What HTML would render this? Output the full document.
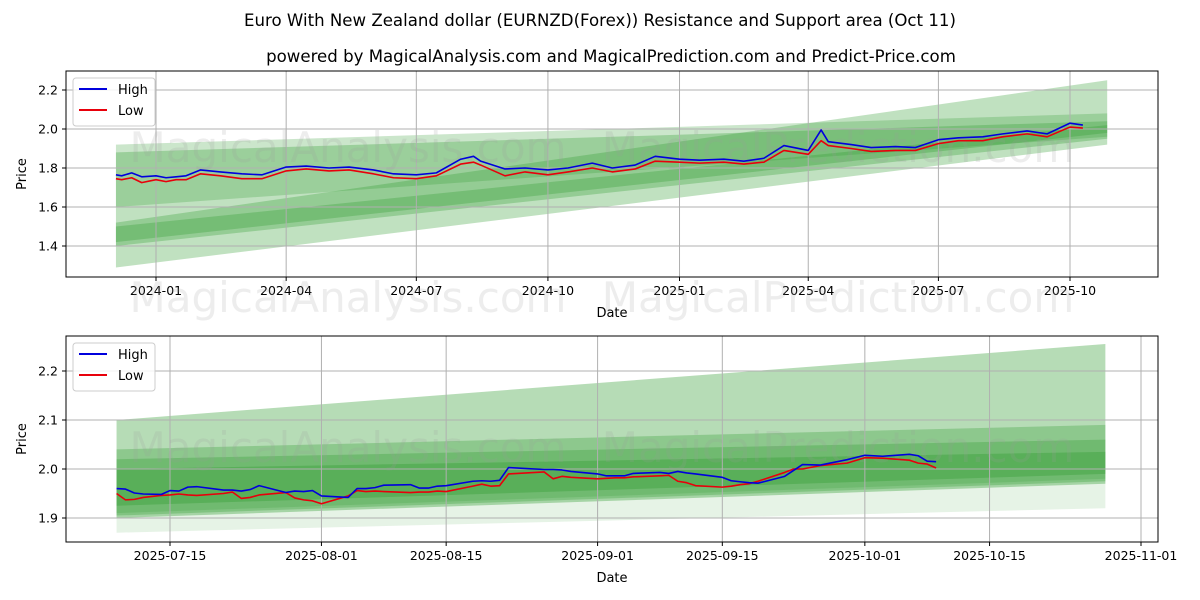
<!DOCTYPE html>
<html><head><meta charset="utf-8">
<style>
html,body{margin:0;padding:0;background:#fff;}
svg{display:block;font-family:"DejaVu Sans","Liberation Sans",sans-serif;}
</style></head>
<body>
<svg id="chart" width="1200" height="600" viewBox="0 0 1200 600" xmlns="http://www.w3.org/2000/svg">
<text x="600" y="26" text-anchor="middle" font-size="16.6">Euro With New Zealand dollar (EURNZD(Forex)) Resistance and Support area (Oct 11)</text>
<text x="611" y="62" text-anchor="middle" font-size="16.6">powered by MagicalAnalysis.com and MagicalPrediction.com and Predict-Price.com</text>
<g id="top"></g>
<g id="bot"></g>
</svg>
<script>
// ---- top chart data ----
const topDates = ["2023-12-04","2023-12-08","2023-12-15","2023-12-22","2024-01-01","2024-01-08","2024-01-15","2024-01-22","2024-02-01","2024-02-15","2024-03-01","2024-03-15","2024-04-01","2024-04-15","2024-05-01","2024-05-15","2024-06-01","2024-06-15","2024-07-01","2024-07-15","2024-08-01","2024-08-10","2024-08-15","2024-09-01","2024-09-15","2024-10-01","2024-10-15","2024-11-01","2024-11-15","2024-12-01","2024-12-15","2025-01-01","2025-01-15","2025-02-01","2025-02-15","2025-03-01","2025-03-15","2025-04-01","2025-04-10","2025-04-15","2025-05-01","2025-05-15","2025-06-01","2025-06-15","2025-07-01","2025-07-15","2025-08-01","2025-08-15","2025-09-01","2025-09-15","2025-10-01","2025-10-10"];
const topHigh = [1.765,1.76,1.775,1.755,1.76,1.75,1.755,1.76,1.79,1.78,1.77,1.765,1.805,1.81,1.80,1.805,1.79,1.77,1.765,1.775,1.845,1.86,1.835,1.795,1.80,1.79,1.80,1.825,1.80,1.815,1.86,1.845,1.84,1.845,1.835,1.85,1.915,1.89,1.995,1.935,1.92,1.905,1.91,1.905,1.945,1.955,1.96,1.975,1.99,1.975,2.03,2.02];
const topLow = [1.745,1.74,1.75,1.725,1.74,1.73,1.74,1.74,1.77,1.76,1.745,1.745,1.785,1.795,1.785,1.79,1.77,1.75,1.745,1.76,1.82,1.83,1.815,1.76,1.78,1.765,1.78,1.80,1.78,1.795,1.835,1.83,1.825,1.83,1.82,1.83,1.89,1.87,1.94,1.915,1.90,1.885,1.89,1.89,1.925,1.94,1.94,1.96,1.975,1.96,2.01,2.005];
const topBandStart = [[1.60,1.92],[1.29,1.52],[1.40,1.88],[1.42,1.50]];
const topBandEnd = [[1.96,2.08],[1.92,2.25],[1.95,2.04],[1.98,2.02]];
const topYTicks = [1.4,1.6,1.8,2.0,2.2];
const topXTicks = ["2024-01","2024-04","2024-07","2024-10","2025-01","2025-04","2025-07","2025-10"];
// ---- bottom chart data ----
const botDates = ["2025-07-09","2025-07-10","2025-07-11","2025-07-12","2025-07-14","2025-07-15","2025-07-16","2025-07-17","2025-07-18","2025-07-21","2025-07-22","2025-07-23","2025-07-24","2025-07-25","2025-07-28","2025-07-29","2025-07-30","2025-07-31","2025-08-01","2025-08-04","2025-08-05","2025-08-06","2025-08-07","2025-08-08","2025-08-11","2025-08-12","2025-08-13","2025-08-14","2025-08-15","2025-08-18","2025-08-19","2025-08-20","2025-08-21","2025-08-22","2025-08-25","2025-08-26","2025-08-27","2025-08-28","2025-08-29","2025-09-01","2025-09-02","2025-09-03","2025-09-04","2025-09-05","2025-09-08","2025-09-09","2025-09-10","2025-09-11","2025-09-12","2025-09-15","2025-09-16","2025-09-17","2025-09-18","2025-09-19","2025-09-22","2025-09-23","2025-09-24","2025-09-26","2025-09-29","2025-10-01","2025-10-03","2025-10-06","2025-10-07","2025-10-08","2025-10-09"];
const botHigh = [1.960,1.959,1.951,1.949,1.948,1.956,1.955,1.963,1.964,1.957,1.957,1.955,1.958,1.966,1.952,1.955,1.954,1.956,1.945,1.942,1.960,1.960,1.962,1.967,1.968,1.961,1.961,1.965,1.966,1.975,1.976,1.975,1.977,2.003,2.000,1.999,1.999,1.998,1.995,1.990,1.986,1.986,1.986,1.991,1.993,1.991,1.995,1.992,1.990,1.983,1.976,1.974,1.972,1.971,1.985,1.997,2.009,2.008,2.019,2.028,2.026,2.030,2.027,2.016,2.015];
const botLow = [1.950,1.937,1.938,1.942,1.946,1.947,1.949,1.947,1.946,1.950,1.953,1.940,1.942,1.947,1.952,1.941,1.937,1.935,1.929,1.945,1.956,1.954,1.955,1.954,1.952,1.953,1.953,1.955,1.954,1.965,1.969,1.965,1.966,1.990,1.993,1.994,1.980,1.985,1.983,1.980,1.981,1.982,1.982,1.984,1.986,1.987,1.975,1.972,1.966,1.963,1.965,1.968,1.970,1.975,1.993,2.000,2.000,2.007,2.012,2.023,2.022,2.018,2.012,2.010,2.002];
const botBandStart = [[1.90,2.10],[1.87,1.91],[1.905,2.04],[1.91,2.02],[1.925,2.00]];
const botBandEnd = [[1.97,2.255],[1.92,1.98],[1.975,2.09],[1.98,2.06],[1.99,2.035]];
const botYTicks = [1.9,2.0,2.1,2.2];
const botXTicks = ["2025-07-15","2025-08-01","2025-08-15","2025-09-01","2025-09-15","2025-10-01","2025-10-15","2025-11-01"];

const NS="http://www.w3.org/2000/svg";
function mk(parent,tag,attrs){const e=document.createElementNS(NS,tag);for(const k in attrs)e.setAttribute(k,attrs[k]);parent.appendChild(e);return e;}
const day=s=>Date.parse(s.length===7?s+"-01":s)/86400000;

function drawChart(g,cfg){
  const L=66,R=1158,T=cfg.top,B=cfg.top+206;
  const xs=d=>cfg.x0+(day(d)-day(cfg.d0))*cfg.pxPerDay;
  const ys=v=>cfg.y0+(v-cfg.v0)*cfg.pxPerUnit;
  cfg.bs.forEach((s,i)=>{
    const e=cfg.be[i];
    const xa=xs(cfg.bandFrom), xb=xs(cfg.bandTo);
    const p=mk(g,'polygon',{points:`${xa},${ys(s[0])} ${xa},${ys(s[1])} ${xb},${ys(e[1])} ${xb},${ys(e[0])}`,fill:'#2e9a2e','fill-opacity':cfg.alpha[i]});
    
    
  });
  cfg.yt.forEach(v=>{
    const l=mk(g,'line',{x1:L,x2:R,y1:ys(v),y2:ys(v),stroke:'#b0b0b0','stroke-width':1});
    
    
    mk(g,'line',{x1:L-4,x2:L,y1:ys(v),y2:ys(v),stroke:'#000'});
    const t=mk(g,'text',{x:L-8,y:ys(v)+4.5,'text-anchor':'end','font-size':12.5});
    t.textContent=v.toFixed(cfg.dec);
    
    
  });
  cfg.xt.forEach(d=>{
    const x=xs(d);
    const l=mk(g,'line',{x1:x,x2:x,y1:T,y2:B,stroke:'#b0b0b0','stroke-width':1});
    
    
    mk(g,'line',{x1:x,x2:x,y1:B,y2:B+4,stroke:'#000'});
    const t=mk(g,'text',{x:x,y:B+18,'text-anchor':'middle','font-size':12.5});
    t.textContent=d;
    
    
  });
  [[cfg.wm1y,'MagicalAnalysis.com',348],[cfg.wm1y,'MagicalPrediction.com',838],[cfg.wm2y,'MagicalAnalysis.com',348],[cfg.wm2y,'MagicalPrediction.com',838]].forEach(w=>{
    if(w[0]==null)return;
    const t=mk(g,'text',{x:w[2],y:w[0],'text-anchor':'middle','font-size':42,fill:'#999','fill-opacity':0.18});
    t.textContent=w[1];
    
    
  });
  const line=(vals,col,name)=>{
    const p=mk(g,'polyline',{points:cfg.dates.map((d,i)=>xs(d)+','+ys(vals[i])).join(' '),fill:'none',stroke:col,'stroke-width':1.6,'stroke-linejoin':'round'});
    
    
  };
  line(cfg.low,'#e8000b','low-line');
  line(cfg.high,'#0000dd','high-line');
  const f=mk(g,'rect',{x:L,y:T,width:R-L,height:B-T,fill:'none',stroke:'#000','stroke-width':1});
  
  
  const yl=mk(g,'text',{x:0,y:0,transform:`translate(26,${(T+B)/2}) rotate(-90)`,'text-anchor':'middle','font-size':13});
  yl.textContent='Price';
  
  
  const xl=mk(g,'text',{x:612,y:B+40,'text-anchor':'middle','font-size':13});
  xl.textContent='Date';
  
  
  const lg=mk(g,'g',{});
  
  
  mk(lg,'rect',{x:73,y:T+7,width:82,height:48,rx:3,fill:'#fff','fill-opacity':0.85,stroke:'#ccc'});
  mk(lg,'line',{x1:79,x2:107,y1:T+18,y2:T+18,stroke:'#0000dd','stroke-width':2});
  mk(lg,'line',{x1:79,x2:107,y1:T+39,y2:T+39,stroke:'#e8000b','stroke-width':2});
  const t1=mk(lg,'text',{x:118,y:T+23,'font-size':13});t1.textContent='High';
  
  
  const t2=mk(lg,'text',{x:118,y:T+44,'font-size':13});t2.textContent='Low';
  
  
}

drawChart(document.getElementById('top'),{
  top:71,x0:156,d0:"2024-01-01",pxPerDay:(1070-156)/(day("2025-10-01")-day("2024-01-01")),
  y0:129,v0:2.0,pxPerUnit:-195,dec:1,
  bandFrom:"2023-12-04",bandTo:"2025-10-27",
  bs:topBandStart,be:topBandEnd,alpha:[0.25,0.3,0.3,0.3],
  yt:topYTicks,xt:topXTicks,dates:topDates,high:topHigh,low:topLow,
  wm1y:162,wm2y:312
});
drawChart(document.getElementById('bot'),{
  top:336,x0:170,d0:"2025-07-15",pxPerDay:(1141-170)/(day("2025-11-01")-day("2025-07-15")),
  y0:469,v0:2.0,pxPerUnit:-490,dec:1,
  bandFrom:"2025-07-09",bandTo:"2025-10-28",
  bs:botBandStart,be:botBandEnd,alpha:[0.35,0.12,0.3,0.3,0.35],
  yt:botYTicks,xt:botXTicks,dates:botDates,high:botHigh,low:botLow,
  wm1y:462,wm2y:null
});
</script>
</body></html>
